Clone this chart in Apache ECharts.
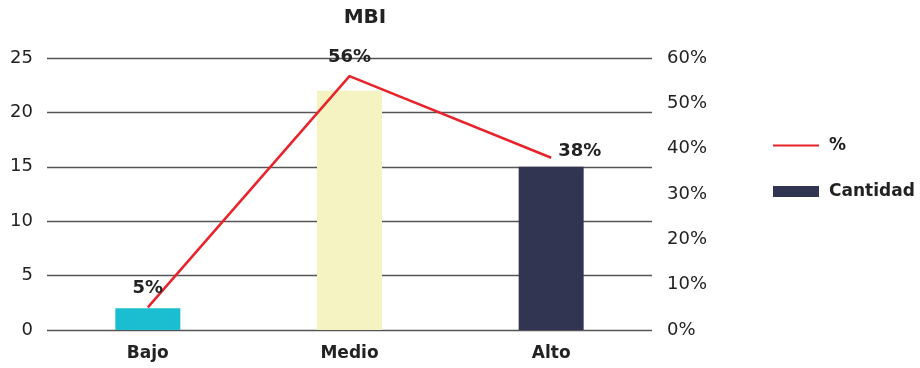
<!DOCTYPE html>
<html>
<head>
<meta charset="utf-8">
<script src="https://cdn.jsdelivr.net/npm/echarts@6/dist/echarts.min.js"></script>
<style>
  html, body { margin: 0; padding: 0; background: #fff; }
  #chart { width: 920px; height: 368px; }
</style>
</head>
<body>
<div id="chart"></div>
<script>
// MBI levels: counts (bars, left axis) and share in percent (line, right axis)
const categories = ['Bajo', 'Medio', 'Alto'];
const cantidad = [2, 22, 15];
const porcentaje = [5, 56, 38];
const barColors = ['#1BBDD0', '#F5F3C1', '#323552'];
const leftTicks = { min: 0, max: 25, interval: 5 };
const rightTicks = { min: 0, max: 60, interval: 10 };

const FONT = 'DejaVu Sans';
const TEXT = '#222222';
const RED = '#E8232A';

const labelStyle = {
  show: true,
  position: 'top',
  distance: 10,
  formatter: '{c}%',
  fontFamily: FONT,
  fontWeight: 'bold',
  fontSize: 18,
  color: TEXT
};

const chart = echarts.init(document.getElementById('chart'), null, { renderer: 'canvas' });

chart.setOption({
  animation: false,
  textStyle: { fontFamily: FONT },
  title: {
    text: 'MBI',
    left: 360,
    top: 3,
    textAlign: 'center',
    textStyle: { fontFamily: FONT, fontWeight: 'bold', fontSize: 20, color: TEXT }
  },
  legend: {
    orient: 'vertical',
    left: 772,
    top: 137,
    padding: 0,
    itemWidth: 46,
    itemHeight: 11,
    itemGap: 29,
    data: [
      // plain line swatch, no marker
      { name: '%', itemStyle: { opacity: 0 } },
      { name: 'Cantidad', icon: 'rect' }
    ],
    textStyle: { fontFamily: FONT, fontWeight: 'bold', fontSize: 17, color: TEXT, padding: [0, 0, 0, 5] }
  },
  grid: { left: 47, right: 268, top: 58, bottom: 38 },
  xAxis: {
    type: 'category',
    data: categories,
    axisLine: { show: false },
    axisTick: { show: false },
    axisLabel: { margin: 15, fontFamily: FONT, fontWeight: 'bold', fontSize: 17, color: TEXT }
  },
  yAxis: [
    {
      type: 'value',
      min: leftTicks.min, max: leftTicks.max, interval: leftTicks.interval,
      axisLine: { show: false },
      axisTick: { show: false },
      axisLabel: { margin: 14, fontFamily: FONT, fontSize: 18, color: TEXT },
      splitLine: { lineStyle: { color: '#555555', width: 1.3 } }
    },
    {
      type: 'value',
      min: rightTicks.min, max: rightTicks.max, interval: rightTicks.interval,
      axisLine: { show: false },
      axisTick: { show: false },
      splitLine: { show: false },
      axisLabel: { margin: 15, fontFamily: FONT, fontSize: 18, color: TEXT, formatter: '{value}%' }
    }
  ],
  series: [
    {
      name: 'Cantidad',
      type: 'bar',
      yAxisIndex: 0,
      barWidth: 65,
      itemStyle: { color: barColors[2] },
      data: cantidad.map((v, i) => ({ value: v, itemStyle: { color: barColors[i] } })),
      z: 2
    },
    {
      name: '%',
      type: 'line',
      yAxisIndex: 1,
      symbol: 'none',
      lineStyle: { color: RED, width: 2.5 },
      itemStyle: { color: RED },
      data: porcentaje,
      z: 3
    },
    {
      // value labels for the percentage line
      name: '% etiquetas',
      type: 'scatter',
      yAxisIndex: 1,
      symbolSize: 0,
      silent: true,
      itemStyle: { opacity: 1 },
      label: labelStyle,
      data: porcentaje.map((v, i) => i === 2
        ? { value: v, label: { position: 'right', distance: 7, offset: [0, -6] } }
        : { value: v }),
      z: 4
    }
  ]
});
</script>
</body>
</html>
